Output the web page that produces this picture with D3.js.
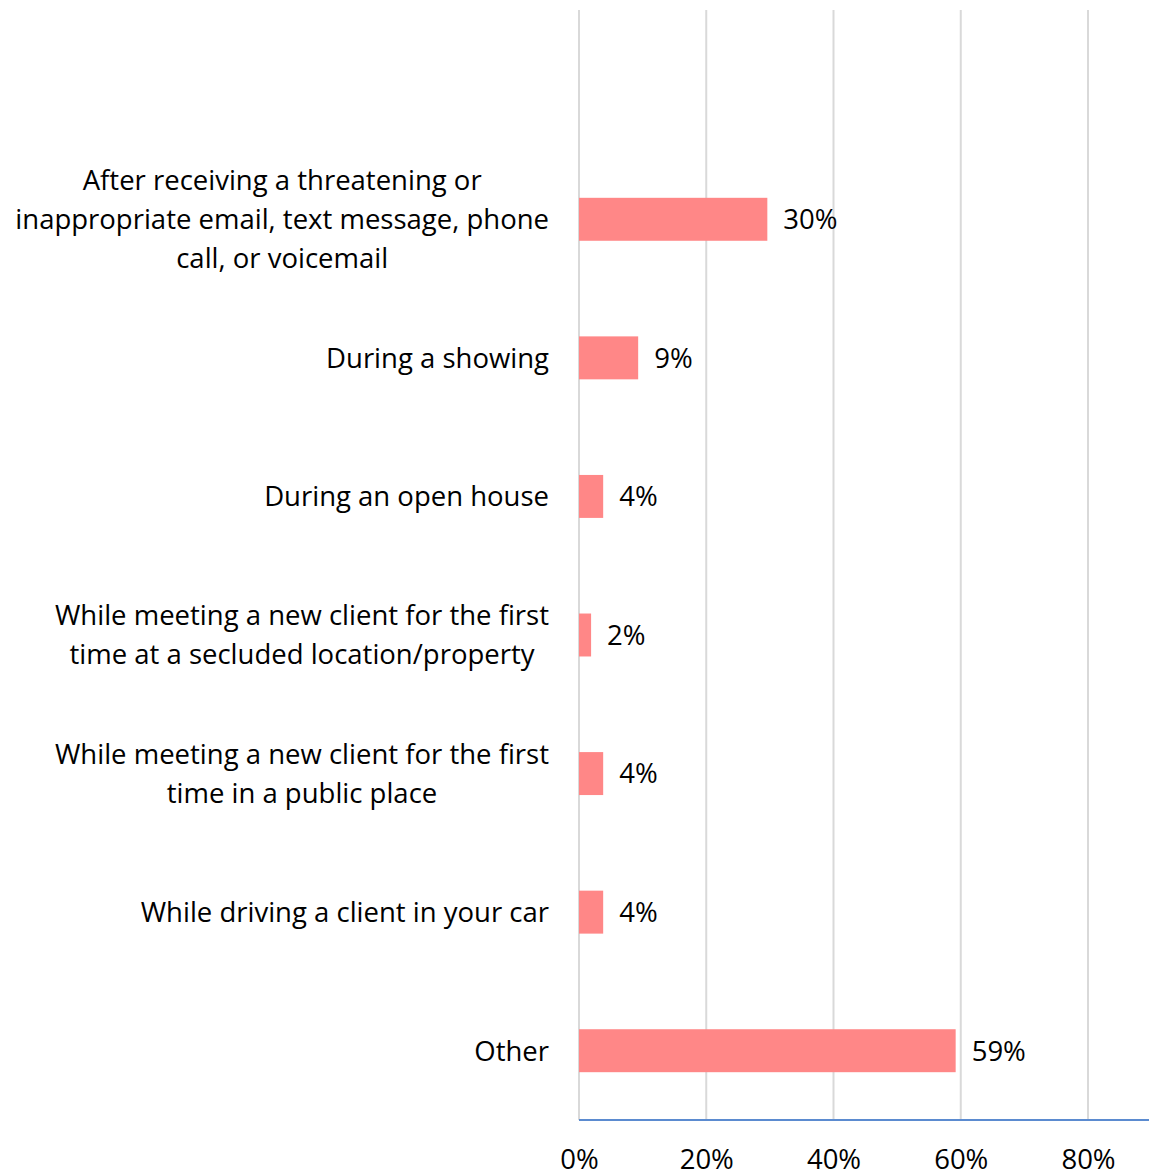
<!DOCTYPE html>
<html><head><meta charset="utf-8">
<script src="https://cdn.jsdelivr.net/npm/d3@7"></script>
<style>body{margin:0;background:#fff}svg{display:block}</style>
</head><body>
<svg id="chart" width="1149" height="1174"></svg>
<script>
const categories = [
  ["After receiving a threatening or", "inappropriate email, text message, phone", "call, or voicemail"],
  ["During a showing"],
  ["During an open house"],
  ["While meeting a new client for the first", "time at a secluded location/property"],
  ["While meeting a new client for the first", "time in a public place"],
  ["While driving a client in your car"],
  ["Other"]
];
const values = [0.296, 0.093, 0.038, 0.019, 0.038, 0.038, 0.592];
const xTicks = [0, 0.2, 0.4, 0.6, 0.8];

const FONT = "'Open Sans', sans-serif";
const FS = 27.5;
const svg = d3.select("#chart");
const x = d3.scaleLinear().domain([0, 0.8]).range([579, 1088]);
const y = d3.scaleBand().domain(d3.range(categories.length)).range([150, 1120]).paddingInner(0.69).paddingOuter(0.345);

// gridlines
svg.append("g").selectAll("line").data(xTicks).join("line")
  .attr("x1", d => x(d)).attr("x2", d => x(d)).attr("y1", 10).attr("y2", 1120)
  .attr("stroke", "#d9d9d9").attr("stroke-width", 2);

// bars
svg.append("g").selectAll("rect").data(values).join("rect")
  .attr("x", x(0)).attr("y", (d, i) => y(i)).attr("width", d => x(d) - x(0)).attr("height", y.bandwidth())
  .attr("fill", "#ff8787");

// value labels
svg.append("g").selectAll("text").data(values).join("text")
  .attr("x", d => x(d) + 16).attr("y", (d, i) => y(i) + y.bandwidth() / 2)
  .attr("dy", "0.36em").attr("font-family", FONT).attr("font-size", FS).attr("fill", "#000")
  .text(d => d3.format(".0%")(d));

// x axis
const xAxis = d3.axisBottom(x).tickValues(xTicks).tickFormat(d3.format(".0%")).tickSize(0).tickPadding(29);
const gx = svg.append("g").attr("transform", "translate(0,1120)").call(xAxis);
gx.select(".domain").remove();
gx.selectAll("text").attr("font-family", FONT).attr("font-size", FS).attr("fill", "#000");
svg.append("line").attr("x1", x(0)).attr("x2", 1149).attr("y1", 1120).attr("y2", 1120)
  .attr("stroke", "#5b8bd0").attr("stroke-width", 2);

// category labels
const lineH = 39;
const right = 549;
categories.forEach((lines, i) => {
  const cy = y(i) + y.bandwidth() / 2;
  const g = svg.append("g");
  const texts = lines.map((t, j) => g.append("text")
    .attr("font-family", FONT).attr("font-size", FS).attr("fill", "#000")
    .attr("text-anchor", "middle")
    .attr("y", cy + (j - (lines.length - 1) / 2) * lineH).attr("dy", "0.36em").text(t));
  const w = d3.max(texts, t => t.node().getComputedTextLength());
  texts.forEach(t => t.attr("x", right - w / 2));
});
</script>
</body></html>
